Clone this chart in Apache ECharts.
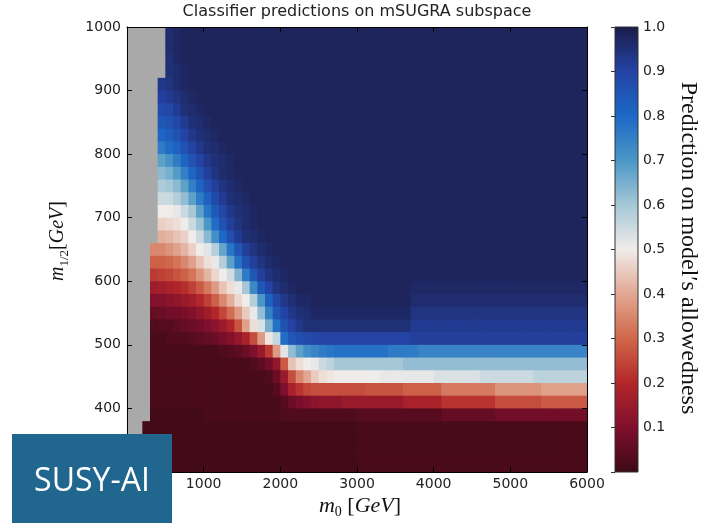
<!DOCTYPE html>
<html>
<head>
<meta charset="utf-8">
<script src="https://cdn.jsdelivr.net/npm/echarts/dist/echarts.min.js"></script>
<style>
  html, body { margin: 0; padding: 0; background: #ffffff; }
  #chart { width: 702px; height: 523px; }
</style>
</head>
<body>
<div id="chart"></div>
<script>
// Classifier prediction (in percent) on a grid of m0 (100 GeV bins, 0..6000)
// by m1/2 (20 GeV bins, 300..1000). null = point outside the scanned region.
const N = null;
const M0_STEP = 100;
const M12_STEP = 20;

const xTickLabels = [1000, 2000, 3000, 4000, 5000, 6000];
const yTickLabels = [400, 500, 600, 700, 800, 900, 1000];
const cbarTickLabels = [0.1, 0.2, 0.3, 0.4, 0.5, 0.6, 0.7, 0.8, 0.9, 1.0];

// lower edge of each m1/2 row, top to bottom
const m12Edges = [980, 960, 940, 920, 900, 880, 860, 840, 820, 800, 780, 760, 740, 720, 700,
  680, 660, 640, 620, 600, 580, 560, 540, 520, 500, 480, 460, 440, 420, 400, 380, 360, 340, 320, 300];

const r980 = [N,N,N,N,N,96,97,98,98,98, 98,98,98,98,98,98,98,98,98,98, 98,98,98,98,98,98,98,98,98,98, 98,98,98,98,98,98,98,98,98,98, 98,98,98,98,98,98,98,98,98,98, 98,98,98,98,98,98,98,98,98,98];
const r960 = [N,N,N,N,N,96,97,98,98,98, 98,98,98,98,98,98,98,98,98,98, 98,98,98,98,98,98,98,98,98,98, 98,98,98,98,98,98,98,98,98,98, 98,98,98,98,98,98,98,98,98,98, 98,98,98,98,98,98,98,98,98,98];
const r940 = [N,N,N,N,N,95,97,98,98,98, 98,98,98,98,98,98,98,98,98,98, 98,98,98,98,98,98,98,98,98,98, 98,98,98,98,98,98,98,98,98,98, 98,98,98,98,98,98,98,98,98,98, 98,98,98,98,98,98,98,98,98,98];
const r920 = [N,N,N,N,N,95,96,97,98,98, 98,98,98,98,98,98,98,98,98,98, 98,98,98,98,98,98,98,98,98,98, 98,98,98,98,98,98,98,98,98,98, 98,98,98,98,98,98,98,98,98,98, 98,98,98,98,98,98,98,98,98,98];
const r900 = [N,N,N,N,93,94,96,97,98,98, 98,98,98,98,98,98,98,98,98,98, 98,98,98,98,98,98,98,98,98,98, 98,98,98,98,98,98,98,98,98,98, 98,98,98,98,98,98,98,98,98,98, 98,98,98,98,98,98,98,98,98,98];
const r880 = [N,N,N,N,91,92,94,96,97,98, 98,98,98,98,98,98,98,98,98,98, 98,98,98,98,98,98,98,98,98,98, 98,98,98,98,98,98,98,98,98,98, 98,98,98,98,98,98,98,98,98,98, 98,98,98,98,98,98,98,98,98,98];
const r860 = [N,N,N,N,88,89,92,95,96,97, 98,98,98,98,98,98,98,98,98,98, 98,98,98,98,98,98,98,98,98,98, 98,98,98,98,98,98,98,98,98,98, 98,98,98,98,98,98,98,98,98,98, 98,98,98,98,98,98,98,98,98,98];
const r840 = [N,N,N,N,85,86,89,92,95,96, 97,98,98,98,98,98,98,98,98,98, 98,98,98,98,98,98,98,98,98,98, 98,98,98,98,98,98,98,98,98,98, 98,98,98,98,98,98,98,98,98,98, 98,98,98,98,98,98,98,98,98,98];
const r820 = [N,N,N,N,81,83,86,90,93,95, 96,97,98,98,98,98,98,98,98,98, 98,98,98,98,98,98,98,98,98,98, 98,98,98,98,98,98,98,98,98,98, 98,98,98,98,98,98,98,98,98,98, 98,98,98,98,98,98,98,98,98,98];
const r800 = [N,N,N,N,76,79,82,86,90,93, 95,96,97,98,98,98,98,98,98,98, 98,98,98,98,98,98,98,98,98,98, 98,98,98,98,98,98,98,98,98,98, 98,98,98,98,98,98,98,98,98,98, 98,98,98,98,98,98,98,98,98,98];
const r780 = [N,N,N,N,68,71,76,81,86,90, 93,95,96,97,98,98,98,98,98,98, 98,98,98,98,98,98,98,98,98,98, 98,98,98,98,98,98,98,98,98,98, 98,98,98,98,98,98,98,98,98,98, 98,98,98,98,98,98,98,98,98,98];
const r760 = [N,N,N,N,63,65,69,75,81,86, 91,94,96,97,98,98,98,98,98,98, 98,98,98,98,98,98,98,98,98,98, 98,98,98,98,98,98,98,98,98,98, 98,98,98,98,98,98,98,98,98,98, 98,98,98,98,98,98,98,98,98,98];
const r740 = [N,N,N,N,59,60,63,68,75,81, 87,91,94,96,97,98,98,98,98,98, 98,98,98,98,98,98,98,98,98,98, 98,98,98,98,98,98,98,98,98,98, 98,98,98,98,98,98,98,98,98,98, 98,98,98,98,98,98,98,98,98,98];
const r720 = [N,N,N,N,55,55,58,62,68,76, 82,88,92,95,96,97,98,98,98,98, 98,98,98,98,98,98,98,98,98,98, 98,98,98,98,98,98,98,98,98,98, 98,98,98,98,98,98,98,98,98,98, 98,98,98,98,98,98,98,98,98,98];
const r700 = [N,N,N,N,50,50,51,55,60,68, 77,84,89,93,95,96,97,98,98,98, 98,98,98,98,98,98,98,98,98,98, 98,98,98,98,98,98,98,98,98,98, 98,98,98,98,98,98,98,98,98,98, 98,98,98,98,98,98,98,98,98,98];
const r680 = [N,N,N,N,46,47,48,50,55,61, 70,79,86,91,94,96,97,98,98,98, 98,98,98,98,98,98,98,98,98,98, 98,98,98,98,98,98,98,98,98,98, 98,98,98,98,98,98,98,98,98,98, 98,98,98,98,98,98,98,98,98,98];
const r660 = [N,N,N,N,41,42,44,46,50,55, 63,72,80,87,92,95,96,97,98,98, 98,98,98,98,98,98,98,98,98,98, 98,98,98,98,98,98,98,98,98,98, 98,98,98,98,98,98,98,98,98,98, 98,98,98,98,98,98,98,98,98,98];
const r640 = [N,N,N,35,35,37,39,42,46,50, 52,58,67,77,85,91,94,96,97,98, 98,98,98,98,98,98,98,98,98,98, 98,98,98,98,98,98,98,98,98,98, 98,98,98,98,98,98,98,98,98,98, 98,98,98,98,98,98,98,98,98,98];
const r620 = [N,N,N,29,29,30,32,35,39,44, 48,51,58,68,78,86,91,94,96,97, 98,98,98,98,98,98,98,98,98,98, 98,98,98,98,98,98,98,98,98,98, 98,98,98,98,98,98,98,98,98,98, 98,98,98,98,98,98,98,98,98,98];
const r600 = [N,N,N,23,24,25,27,29,32,37, 42,47,50,54,64,76,85,91,94,96, 97,98,98,98,98,98,98,98,98,98, 98,98,98,98,98,98,98,98,98,98, 98,98,98,98,98,98,98,98,98,98, 98,98,98,98,98,98,98,98,98,98];
const r580 = [N,N,N,16,17,18,19,21,24,28, 33,38,44,48,51,60,73,84,90,94, 96,97,98,98,98,98,98,98,98,98, 98,98,98,98,98,98,98,97,97,97, 97,97,97,97,97,97,97,97,97,97, 97,97,97,97,97,97,97,97,97,97];
const r560 = [N,N,N,11,11,12,13,15,17,20, 24,29,35,41,47,50,58,70,82,89, 93,95,97,97,98,98,98,98,98,98, 98,98,98,98,98,98,98,96,96,96, 96,96,96,96,96,96,96,96,96,96, 96,96,96,96,96,96,96,96,96,96];
const r540 = [N,N,N,6,7,8,8,9,11,13, 16,20,25,31,38,45,51,62,75,85, 90,93,95,96,97,97,97,97,97,97, 97,97,97,97,97,97,97,94,94,94, 94,94,94,94,94,94,94,94,94,94, 94,94,94,94,94,94,94,94,94,94];
const r520 = [N,N,N,3,4,4,5,6,7,8, 10,12,15,19,27,39,48,53,65,78, 86,90,93,95,95,95,95,95,95,95, 95,95,95,95,95,95,95,92,92,92, 92,92,92,92,92,92,92,92,92,92, 92,92,92,92,92,92,92,92,92,92];
const r500 = [N,N,N,2,2,3,3,3,4,5, 6,7,9,11,14,18,26,38,49,56, 79,85,87,88,89,90,90,90,90,90, 90,90,90,90,90,90,90,91,91,91, 91,91,91,91,91,91,91,91,91,91, 91,91,91,91,91,91,91,91,91,91];
const r480 = [N,N,N,2,2,2,2,2,2,2, 2,2,3,4,5,7,10,15,23,38, 52,62,68,72,74,76,77,78,78,78, 78,78,78,78,76,76,76,76,74,74, 74,74,74,74,74,74,74,74,74,74, 74,74,74,74,74,74,74,74,74,74];
const r460 = [N,N,N,2,2,2,2,2,2,2, 2,2,2,2,2,2,3,5,8,13, 28,44,48,50,51,55,57,60,60,60, 60,60,60,60,60,60,62,62,62,62, 62,62,62,62,62,62,62,62,62,62, 62,62,62,62,62,62,62,62,62,62];
const r440 = [N,N,N,2,2,2,2,2,2,2, 2,2,2,2,2,2,2,2,3,7, 15,26,35,40,45,48,49,50,50,50, 50,50,50,51,51,51,51,51,51,51, 53,53,53,53,53,53,55,55,55,55, 55,55,55,57,57,57,57,57,57,57];
const r420 = [N,N,N,2,2,2,2,2,2,2, 2,2,2,2,2,2,2,2,2,4, 10,18,22,25,26,26,26,26,26,26, 26,27,27,27,27,27,29,29,29,29, 29,33,33,33,33,33,33,33,37,37, 37,37,37,37,39,39,39,39,39,39];
const r400 = [N,N,N,2,2,2,2,2,2,2, 2,2,2,2,2,2,2,2,2,2, 4,7,9,11,12,13,13,13,15,15, 15,15,15,15,15,15,18,18,18,18, 18,22,22,22,22,22,22,22,26,26, 26,26,26,26,28,28,28,28,28,28];
const r380 = [N,N,N,1,1,1,1,1,1,1, 2,2,2,2,2,2,2,2,2,2, 3,3,3,3,3,3,3,3,3,3, 4,4,4,4,4,4,4,4,4,4, 4,6,6,6,6,6,6,6,8,8, 8,8,8,8,8,8,8,8,8,8];
const r360 = [N,N,1,1,1,1,1,1,1,1, 1,1,1,1,1,1,1,1,1,1, 1,1,1,1,1,1,1,1,1,1, 2,2,2,2,2,2,2,2,2,2, 2,2,2,2,2,2,2,2,2,2, 2,2,2,2,2,2,2,2,2,2];
const r340 = [N,N,1,1,1,1,1,1,1,1, 1,1,1,1,1,1,1,1,1,1, 1,1,1,1,1,1,1,1,1,1, 2,2,2,2,2,2,2,2,2,2, 2,2,2,2,2,2,2,2,2,2, 2,2,2,2,2,2,2,2,2,2];
const r320 = [N,N,1,1,1,1,1,1,1,1, 1,1,1,1,1,1,1,1,1,1, 1,1,1,1,1,1,1,1,1,1, 2,2,2,2,2,2,2,2,2,2, 2,2,2,2,2,2,2,2,2,2, 2,2,2,2,2,2,2,2,2,2];
const r300 = [N,N,1,1,1,1,1,1,1,1, 1,1,1,1,1,1,1,1,1,1, 1,1,1,1,1,1,1,1,1,1, 2,2,2,2,2,2,2,2,2,2, 2,2,2,2,2,2,2,2,2,2, 2,2,2,2,2,2,2,2,2,2];

const predictionRows = [r980, r960, r940, r920, r900, r880, r860, r840, r820, r800, r780, r760, r740, r720, r700,
  r680, r660, r640, r620, r600, r580, r560, r540, r520, r500, r480, r460, r440, r420, r400, r380, r360, r340, r320, r300];

// diverging colour map: 0 = excluded (dark red) ... 1 = allowed (dark blue)
const cmap = ['#3c0915', '#7f0f2c', '#b3262a', '#d0674a', '#e2a792', '#f0ecea',
              '#a6c7d6', '#4b97c6', '#1c68c6', '#2443a4', '#1b1d4a'];

const cells = [];
predictionRows.forEach((row, i) => {
  const m12 = m12Edges[i];
  row.forEach((v, c) => {
    if (v !== null) cells.push([c * M0_STEP, m12, v / 100]);
  });
});

const PLOT = { left: 127, top: 27, width: 460, height: 445 };
const CBAR = { left: 615, top: 27, width: 23, height: 445 };
const tickFont = { color: '#222', fontSize: 14, fontFamily: 'DejaVu Sans' };
const mathMain = { fontFamily: 'Liberation Serif', fontStyle: 'italic', fill: '#111' };

const chart = echarts.init(document.getElementById('chart'), null, { renderer: 'canvas' });

function frameAxis(extra) {
  return Object.assign({
    type: 'value',
    z: 10,
    axisLine: { show: true, onZero: false, lineStyle: { color: '#000', width: 1 } },
    axisTick: { show: true, inside: true, length: 5, lineStyle: { color: '#000', width: 1 } },
    splitLine: { show: false }
  }, extra);
}

chart.setOption({
  animation: false,
  backgroundColor: '#ffffff',
  grid: [
    Object.assign({ show: true, backgroundColor: '#a9a9a9', borderWidth: 0 }, PLOT),
    Object.assign({ show: false }, CBAR)
  ],
  xAxis: [
    frameAxis({ gridIndex: 0, position: 'bottom', min: 0, max: 6000, interval: 1000,
      axisLabel: Object.assign({ margin: 5, formatter: v => xTickLabels.includes(v) ? String(v) : '' }, tickFont) }),
    frameAxis({ gridIndex: 0, position: 'top', min: 0, max: 6000, interval: 1000,
      axisLabel: { show: false } }),
    { type: 'value', gridIndex: 1, min: 0, max: 1, show: false }
  ],
  yAxis: [
    frameAxis({ gridIndex: 0, position: 'left', min: 300, max: 1000, interval: 100,
      axisLabel: Object.assign({ margin: 6, formatter: v => yTickLabels.includes(v) ? String(v) : '' }, tickFont) }),
    frameAxis({ gridIndex: 0, position: 'right', min: 300, max: 1000, interval: 100,
      axisLabel: { show: false } }),
    { type: 'value', gridIndex: 1, position: 'right', min: 0, max: 1, interval: 0.1, z: 10,
      axisLine: { show: false },
      axisTick: { show: true, inside: true, length: 4, lineStyle: { color: '#333' } },
      splitLine: { show: false },
      axisLabel: Object.assign({ margin: 5,
        formatter: v => { const t = cbarTickLabels.find(k => Math.abs(k - v) < 1e-6); return t ? t.toFixed(1) : ''; } }, tickFont) }
  ],
  visualMap: {
    show: false, type: 'continuous', min: 0, max: 1, dimension: 2, seriesIndex: 0,
    inRange: { color: cmap }
  },
  series: [{
    type: 'custom',
    name: 'prediction',
    coordinateSystem: 'cartesian2d',
    xAxisIndex: 0, yAxisIndex: 0,
    clip: true,
    encode: { x: 0, y: 1 },
    data: cells,
    renderItem: function (params, api) {
      const x0 = api.value(0), y0 = api.value(1);
      const a = api.coord([x0, y0 + M12_STEP]);
      const b = api.coord([x0 + M0_STEP, y0]);
      return {
        type: 'rect',
        shape: { x: a[0], y: a[1], width: b[0] - a[0] + 0.7, height: b[1] - a[1] + 0.7 },
        style: { fill: api.visual('color') }
      };
    }
  }],
  graphic: [
    {
      type: 'rect', z: 1,
      shape: { x: CBAR.left, y: CBAR.top, width: CBAR.width, height: CBAR.height },
      style: {
        fill: { type: 'linear', x: 0, y: 1, x2: 0, y2: 0,
          colorStops: cmap.map((c, i) => ({ offset: i / (cmap.length - 1), color: c })) },
        stroke: '#333', lineWidth: 1
      }
    },
    {
      type: 'text', z: 20, x: 357, y: 12,
      style: { text: 'Classifier predictions on mSUGRA subspace', fill: '#222',
        font: '16px "DejaVu Sans"', align: 'center', verticalAlign: 'middle' }
    },
    {
      type: 'text', z: 20, x: 360, y: 506,
      style: {
        text: '{i|m}{s|0}{n| [}{i|GeV}{n|]}', align: 'center', verticalAlign: 'middle',
        rich: {
          i: Object.assign({ fontSize: 22, lineHeight: 26 }, mathMain),
          n: { fontFamily: 'Liberation Serif', fontSize: 22, lineHeight: 26, fill: '#111' },
          s: { fontFamily: 'Liberation Serif', fontSize: 14, lineHeight: 14, verticalAlign: 'bottom', fill: '#111' }
        }
      }
    },
    {
      type: 'text', z: 20, x: 58, y: 241, rotation: Math.PI / 2,
      style: {
        text: '{i|m}{s|1/2}{n|[}{i|GeV}{n|]}', align: 'center', verticalAlign: 'middle',
        rich: {
          i: Object.assign({ fontSize: 20, lineHeight: 26 }, mathMain),
          n: { fontFamily: 'Liberation Serif', fontSize: 20, lineHeight: 26, fill: '#111' },
          s: { fontFamily: 'Liberation Serif', fontSize: 13, lineHeight: 13, verticalAlign: 'bottom', fill: '#111' }
        }
      }
    },
    {
      type: 'text', z: 20, x: 688, y: 248, rotation: -Math.PI / 2,
      style: { text: 'Prediction on model\u2032s allowedness', fill: '#111',
        font: '24px "Liberation Serif"', align: 'center', verticalAlign: 'middle' }
    },
    {
      type: 'rect', z: 100,
      shape: { x: 12, y: 434, width: 160, height: 89 },
      style: { fill: '#20668f' }
    },
    {
      type: 'text', z: 101, x: 92, y: 482,
      style: { text: 'SUSY-AI', fill: '#ffffff', font: '32px "Open Sans"',
        align: 'center', verticalAlign: 'middle' }
    }
  ]
});
</script>
</body>
</html>
